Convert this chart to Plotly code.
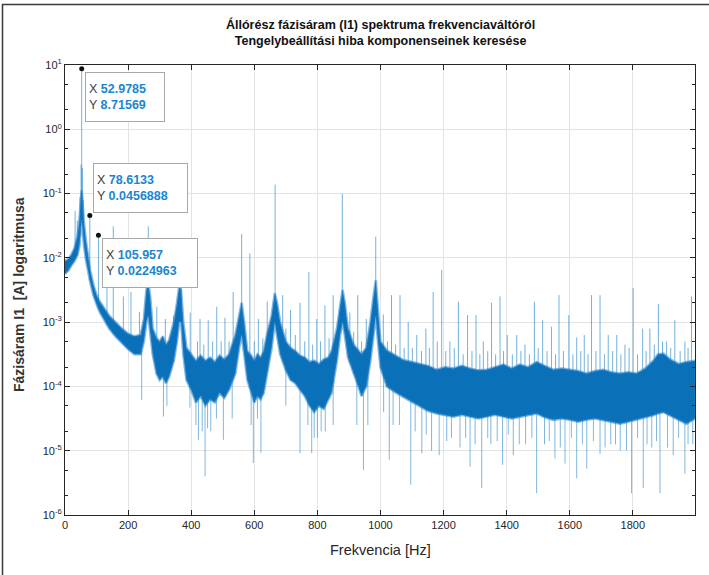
import numpy as np
import plotly.graph_objects as go

# ---------------- data (log10 of amplitude in A) ----------------
band_freq = [0, 10, 20, 30, 40, 46, 50, 53, 56, 60, 66, 72, 80, 90, 100, 110, 125, 140, 160, 180,
             200, 220, 240, 250, 258, 264, 270, 278, 290, 300, 310, 320, 330, 345, 355, 362, 368,
             375, 385, 400, 415, 430, 445, 460, 475, 490, 505, 520, 540, 552, 560, 568, 578, 590,
             600, 610, 620, 630, 640, 655, 665, 672, 682, 700, 715, 730, 745, 760, 775, 790, 805,
             820, 835, 845, 862, 872, 880, 887, 897, 915, 930, 940, 955, 968, 978, 985, 992, 1000,
             1020, 1050, 1072, 1100, 1125, 1150, 1178, 1205, 1231, 1258, 1284, 1310, 1337, 1363,
             1390, 1416, 1442, 1468, 1495, 1520, 1548, 1575, 1600, 1627, 1653, 1680, 1706, 1732,
             1759, 1785, 1812, 1840, 1865, 1880, 1897, 1918, 1945, 1970, 1997]
band_top_exp = [-2.05, -2.02, -1.95, -1.85, -1.65, -1.4, -1.1, -0.95, -1.15, -1.45, -1.72, -1.95, -2.2,
                -2.42, -2.58, -2.68, -2.8, -2.9, -3.0, -3.1, -3.18, -3.22, -3.2, -2.95, -2.5, -2.4,
                -2.6, -3.1, -3.25, -3.3, -3.22, -3.35, -3.28, -3.0, -2.7, -2.45, -2.5, -3.0, -3.4,
                -3.5, -3.6, -3.52, -3.6, -3.55, -3.62, -3.52, -3.58, -3.5, -3.2, -2.9, -2.7, -3.0,
                -3.45, -3.52, -3.6, -3.5, -3.55, -3.45, -3.2, -2.9, -2.55, -2.7, -3.0, -3.3, -3.4,
                -3.45, -3.52, -3.55, -3.62, -3.6, -3.65, -3.58, -3.55, -3.45, -3.1, -2.75, -2.5,
                -2.7, -3.1, -3.35, -3.45, -3.5, -3.4, -3.0, -2.6, -2.35, -2.8, -3.3, -3.44, -3.52,
                -3.59, -3.62, -3.65, -3.68, -3.74, -3.7, -3.72, -3.68, -3.72, -3.75, -3.74, -3.7,
                -3.66, -3.72, -3.66, -3.7, -3.62, -3.68, -3.74, -3.72, -3.74, -3.76, -3.8, -3.76,
                -3.74, -3.78, -3.8, -3.78, -3.8, -3.72, -3.6, -3.5, -3.49, -3.58, -3.65, -3.62,
                -3.6]
band_bottom_exp = [-2.25, -2.2, -2.12, -2.05, -1.95, -1.8, -1.55, -1.4, -1.5, -1.8, -2.02, -2.2, -2.38,
                   -2.58, -2.72, -2.84, -2.98, -3.1, -3.22, -3.32, -3.42, -3.5, -3.5, -3.3, -3.0,
                   -2.9, -3.1, -3.5, -3.8, -3.9, -3.85, -3.95, -3.85, -3.6, -3.3, -3.0, -3.0, -3.5,
                   -3.9, -4.05, -4.25, -4.15, -4.3, -4.2, -4.25, -4.1, -4.18, -4.05, -3.8, -3.4,
                   -3.2, -3.5, -3.9, -4.1, -4.25, -4.15, -4.2, -4.1, -3.8, -3.4, -3.0, -3.2, -3.5,
                   -3.75, -3.9, -3.95, -4.05, -4.15, -4.3, -4.4, -4.3, -4.35, -4.2, -4.1, -3.6,
                   -3.2, -3.0, -3.2, -3.55, -3.8, -4.0, -4.15, -4.0, -3.6, -3.2, -2.9, -3.3, -3.7,
                   -4.0, -4.1, -4.16, -4.25, -4.31, -4.38, -4.42, -4.45, -4.47, -4.44, -4.47, -4.5,
                   -4.47, -4.44, -4.47, -4.5, -4.47, -4.45, -4.42, -4.48, -4.52, -4.5, -4.52,
                   -4.55, -4.52, -4.5, -4.52, -4.55, -4.58, -4.55, -4.52, -4.48, -4.45, -4.42,
                   -4.4, -4.45, -4.52, -4.58, -4.5]

peak_freq = [32, 39, 133, 153, 185, 209, 236, 264, 291, 318, 344, 368, 397, 428, 454, 481, 507, 533,
             560, 586, 613, 641, 666, 690, 715, 745, 773, 798, 824, 850, 879, 903, 928, 955, 985,
             1009, 1035, 1062, 1088, 1115, 1144, 1167, 1194, 1220, 1247, 1276, 1303, 1326, 1352,
             1379, 1402, 1432, 1458, 1488, 1514, 1542, 1566, 1597, 1622, 1646, 1669, 1696, 1722,
             1749, 1775, 1801, 1831, 1854, 1881, 1907, 1933, 1965, 1986,
             1022, 1048, 1075, 1101, 1130, 1155, 1180, 1207, 1234, 1262, 1290, 1315, 1340, 1365,
             1390, 1418, 1445, 1472, 1500, 1528, 1555, 1580, 1610, 1635, 1658, 1683, 1710, 1736,
             1762, 1788, 1815, 1842, 1868, 1894, 1920, 1950, 1975,
             420, 440, 468, 495, 520, 600, 627, 700, 730, 760, 785, 810, 837, 915, 940,
             48, 51, 55, 58]
peak_exp = [-1.27, -1.42, -2.3, -1.51, -2.6, -2.53, -2.84, -1.51, -2.76, -2.95, -2.9, -2.35, -2.85, -2.95,
            -2.97, -2.76, -2.93, -2.53, -1.63, -1.93, -2.95, -2.68, -0.86, -2.58, -2.81, -2.7, -2.22,
            -2.95, -2.74, -2.58, -1.0, -2.85, -2.58, -2.95, -1.67,
            -2.88, -2.58, -2.58, -3.0, -3.2, -3.1, -2.53, -2.19, -3.3, -2.68, -2.89, -2.89, -3.3,
            -2.7, -2.6, -3.2, -3.2, -3.35, -2.68, -2.97, -3.07, -2.58, -2.89, -3.24, -3.2, -2.58,
            -2.58, -3.2, -3.2, -3.35, -2.47, -3.1, -3.1, -2.72, -3.3, -2.97, -3.3, -2.6,
            -3.3, -3.35, -3.4, -3.4, -3.45, -3.4, -3.3, -3.45, -3.4, -3.5, -3.45, -3.5, -3.45, -3.5,
            -3.45, -3.5, -3.45, -3.5, -3.4, -3.45, -3.5, -3.45, -3.5, -3.45, -3.5, -3.45, -3.5, -3.45,
            -3.5, -3.4, -3.5, -3.45, -3.35, -3.3, -3.4, -3.45, -3.4,
            -3.3, -3.35, -3.3, -3.3, -3.3, -3.3, -3.25, -3.1, -3.2, -3.3, -3.35, -3.3, -3.25, -3.15, -3.3,
            -1.05, -0.55, -0.6, -1.1]

dip_freq = [243, 312, 323, 396, 423, 444, 462, 502, 530, 597, 621, 700, 745, 782, 800, 825, 850, 946,
            960, 1028, 1060, 1096, 1131, 1162, 1186, 1225, 1252, 1284, 1321, 1350, 1387, 1421, 1460,
            1495, 1520, 1553, 1585, 1622, 1654, 1696, 1730, 1760, 1796, 1833, 1860, 1886, 1928,
            1965, 1990, 415, 435, 452, 480, 590, 610, 770, 790, 812, 925, 1010, 1040, 1110, 1145,
            1210, 1270, 1300, 1340, 1370, 1405, 1440, 1480, 1535, 1570, 1605, 1640, 1675, 1712,
            1745, 1780, 1815, 1845, 1875, 1910, 1945, 1975]
dip_exp = [-4.21, -4.47, -4.3, -4.33, -4.83, -5.4, -4.7, -4.83, -4.5, -5.19, -5.03, -4.3, -5.04, -5.04,
           -4.8, -4.7, -4.6, -5.3, -4.6, -5.14, -4.6, -5.53, -5.04, -5.0, -5.07, -4.8, -4.95, -5.25,
           -5.58, -4.9, -5.22, -5.07, -4.9, -5.66, -4.9, -5.12, -5.2, -5.43, -5.28, -5.05, -4.9, -5.0,
           -5.66, -5.58, -4.95, -5.66, -5.07, -5.36, -4.9, -4.6, -4.7, -4.65, -4.5, -4.6, -4.5, -4.6,
           -4.8, -4.7, -4.6, -4.4, -4.6, -4.7, -4.75, -4.85, -4.8, -4.9, -4.8, -4.85, -4.75, -4.9,
           -4.8, -4.85, -4.95, -4.8, -4.9, -4.85, -4.95, -4.9, -5.0, -4.8, -4.9, -4.85, -4.95, -4.8,
           -4.9]

tip_x = [52.9785, 78.6133, 105.957]
tip_y = [8.71569, 0.0456888, 0.0224963]
tip_x_text = ["52.9785", "78.6133", "105.957"]
tip_y_text = ["8.71569", "0.0456888", "0.0224963"]

x_tick_vals = [0, 200, 400, 600, 800, 1000, 1200, 1400, 1600, 1800]
y_tick_exps = [-6, -5, -4, -3, -2, -1, 0, 1]
y_tick_text = ["10<sup>-6</sup>", "10<sup>-5</sup>", "10<sup>-4</sup>", "10<sup>-3</sup>",
               "10<sup>-2</sup>", "10<sup>-1</sup>", "10<sup>0</sup>", "10<sup>1</sup>"]

title_lines = ["Állórész fázisáram (I1) spektruma frekvenciaváltóról",
               "Tengelybeállítási hiba komponenseinek keresése"]
x_title = "Frekvencia [Hz]"
y_title = "Fázisáram I1 \u00a0[A] logaritmusa"

# ---------------- build figure ----------------
AX = "#262626"
FONT = "Liberation Sans, Arial, Helvetica, sans-serif"

band_top = [10 ** v for v in band_top_exp]
band_bottom = [10 ** v for v in band_bottom_exp]

fig = go.Figure()

# upward spectral lines (drawn under the band)
sx, sy = [], []
for f, e in zip(peak_freq, peak_exp):
    base = np.interp(f, band_freq, band_bottom_exp)
    sx += [f, f, None]
    sy += [10 ** base, 10 ** e, None]
for f, v in zip(tip_x, tip_y):
    base = np.interp(f, band_freq, band_bottom_exp)
    sx += [f, f, None]
    sy += [10 ** base, v, None]
fig.add_trace(go.Scatter(x=sx, y=sy, mode="lines",
                         line=dict(color="rgba(0,114,189,0.55)", width=1),
                         hoverinfo="skip", showlegend=False))

# downward dips
dx, dy = [], []
for f, e in zip(dip_freq, dip_exp):
    base = np.interp(f, band_freq, band_top_exp)
    dx += [f, f, None]
    dy += [10 ** base, 10 ** e, None]
fig.add_trace(go.Scatter(x=dx, y=dy, mode="lines",
                         line=dict(color="rgba(0,114,189,0.5)", width=1),
                         hoverinfo="skip", showlegend=False))

# spectrum noise band
fig.add_trace(go.Scatter(
    x=band_freq + band_freq[::-1],
    y=band_top + band_bottom[::-1],
    fill="toself", fillcolor="#0a70b8", mode="lines",
    line=dict(color="rgba(30,125,200,0.55)", width=2.5),
    hoverinfo="skip", showlegend=False))

# data tip markers
fig.add_trace(go.Scatter(x=tip_x, y=tip_y, mode="markers",
                         marker=dict(color="#111111", size=5),
                         hoverinfo="skip", showlegend=False))

# data tip boxes (positions in paper coords)
box_pos = [(0.0317, 0.984, 72), (0.0444, 0.782, 87), (0.0587, 0.6156, 88)]
for (bx, by, bw), xt, yt in zip(box_pos, tip_x_text, tip_y_text):
    fig.add_annotation(
        xref="paper", yref="paper", x=bx, y=by, xanchor="left", yanchor="top",
        showarrow=False, align="left", valign="middle", width=bw, height=42,
        bgcolor="rgba(255,255,255,0.95)", bordercolor="#a8a8a8", borderwidth=1, borderpad=3,
        text=(f"<span style='color:#404040'>X</span> <b><span style='color:#1a86d0'>{xt}</span></b><br>"
              f"<span style='color:#404040'>Y</span> <b><span style='color:#1a86d0'>{yt}</span></b>"),
        font=dict(family=FONT, size=12.5))

# axis titles as annotations
fig.add_annotation(xref="paper", yref="paper", x=0.5, y=(515 - 550) / 450, xanchor="center",
                   yanchor="middle", showarrow=False, text=x_title,
                   font=dict(family=FONT, size=14.5, color=AX))
fig.add_annotation(xref="paper", yref="paper", x=(19 - 65) / 630, y=(515 - 295) / 450,
                   xanchor="center", yanchor="middle", showarrow=False, textangle=-90,
                   text="<b>" + y_title + "</b>", font=dict(family=FONT, size=14, color="#333333"))

# title
fig.add_annotation(xref="paper", yref="paper", x=0.5, y=(515 - 32) / 450, xanchor="center",
                   yanchor="middle", showarrow=False,
                   text="<b>" + title_lines[0] + "</b><br><b>" + title_lines[1] + "</b>",
                   font=dict(family=FONT, size=12.5, color="#111111"))

# outer picture frame (left and top edges)
fig.add_shape(type="rect", xref="paper", yref="paper",
              x0=(2.5 - 65) / 630, x1=(714 - 65) / 630, y0=(515 - 580) / 450, y1=(515 - 4.5) / 450,
              line=dict(color="#3a3a3a", width=1.5), fillcolor="rgba(0,0,0,0)", layer="below")

fig.update_layout(
    width=709, height=575,
    margin=dict(l=65, r=14, t=65, b=60),
    paper_bgcolor="white", plot_bgcolor="white",
    font=dict(family=FONT, size=11, color=AX),
    showlegend=False,
)
fig.update_xaxes(
    range=[0, 1997], tickvals=x_tick_vals, ticks="inside", ticklen=5, tickcolor=AX,
    showline=True, linecolor=AX, linewidth=1, mirror="allticks",
    showgrid=True, gridcolor="#e3e3e3", gridwidth=1, zeroline=False,
    tickfont=dict(family=FONT, size=11, color=AX))
fig.update_yaxes(
    type="log", range=[-6, 1], tickvals=[10 ** e for e in y_tick_exps], ticktext=y_tick_text,
    ticks="inside", ticklen=5, tickcolor=AX,
    showline=True, linecolor=AX, linewidth=1, mirror="allticks",
    showgrid=True, gridcolor="#e3e3e3", gridwidth=1, zeroline=False,
    minor=dict(ticks="inside", ticklen=3, tickcolor=AX, showgrid=False),
    tickfont=dict(family=FONT, size=11, color=AX))

fig.write_html("out.html", config={"displayModeBar": False},
               post_script="document.body.style.margin='0';document.body.style.overflow='hidden';")
